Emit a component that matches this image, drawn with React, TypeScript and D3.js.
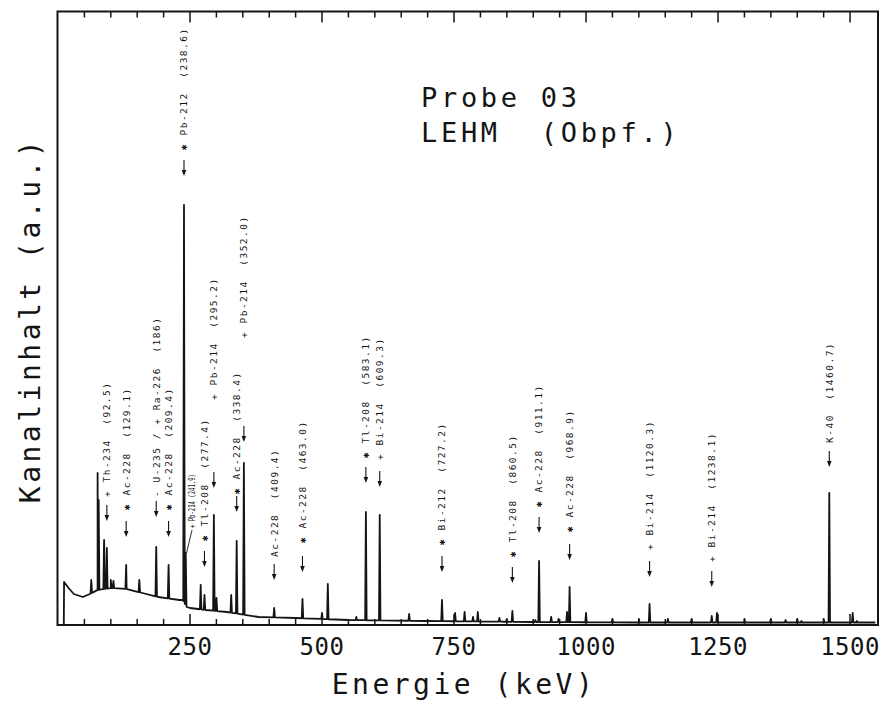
import React from "react";
import * as d3 from "d3";

const W = 886;
const H = 713;

// energy axis (keV) and counts (a.u.)
const xDomain = [0, 1552];
const yDomain = [0, 613];
const xTickValues = [250, 500, 750, 1000, 1250, 1500];

// continuum
const continuumEnergy = [11, 11.5, 20, 30, 47, 60, 75, 100, 130, 160, 190, 230, 236, 244, 250, 280, 320, 380, 450, 550, 700, 900, 1100, 1300, 1450, 1548];
const continuumCounts = [0, 43, 37, 31, 28, 31, 35, 37, 36, 32, 28, 25, 25, 18, 17, 15, 13, 8, 7, 5, 4, 3, 2.5, 2.5, 2.5, 2.5];

// peaks (energy keV, top counts)
const peakEnergy = [63, 75, 77, 87.3, 92.5, 100, 105, 129.1, 154, 186, 209.4, 238.6, 241.9, 270.2, 277.4, 295.2, 300.1, 328, 338.4, 352, 409.4, 463, 500, 511, 565, 583.1, 609.3, 665, 727.2, 752, 770, 786, 795, 836, 850, 860.5, 904, 911.1, 934, 948, 964, 968.9, 1000, 1050, 1100, 1120.3, 1155, 1200, 1238.1, 1248, 1300, 1350, 1378, 1400, 1408, 1450, 1460.7, 1505, 1513];
const peakCounts = [45, 152, 125, 85, 77, 45, 44, 60, 45, 78, 60, 420, 72, 40, 30, 110, 27, 30, 84, 162, 17, 26, 12, 41, 8, 113, 110, 11, 25, 12, 13, 8, 13, 7, 6, 14, 5, 64, 8, 6, 13, 38, 12, 6, 6, 21, 6, 6, 9, 12, 6, 6, 5, 6, 4, 6, 132, 12, 4];

// peak identifications
const labelEnergy = [92.5, 129.1, 186, 209.4, 238.6, 277.4, 295.2, 338.4, 352.0, 409.4, 463.0, 583.1, 609.3, 727.2, 860.5, 911.1, 968.9, 1120.3, 1238.1, 1460.7];
const labelMark = ["+", "✱", "-", "✱", "✱", "✱", "+", "✱", "+", "", "✱", "✱", "+", "✱", "✱", "✱", "✱", "+", "+", ""];
const labelName = ["Th-234", "Ac-228", "U-235 / + Ra-226", "Ac-228", "Pb-212", "Tl-208", "Pb-214", "Ac-228", "Pb-214", "Ac-228", "Ac-228", "Tl-208", "Bi-214", "Bi-212", "Tl-208", "Ac-228", "Ac-228", "Bi-214", "Bi-214", "K-40"];
const labelValue = ["92.5", "129.1", "186", "209.4", "238.6", "277.4", "295.2", "338.4", "352.0", "409.4", "463.0", "583.1", "609.3", "727.2", "860.5", "911.1", "968.9", "1120.3", "1238.1", "1460.7"];

// annotation layout (pixels): arrow tip and text start
const labelTipY = [521, 537, 517, 537, 176, 567, 488, 512, 442, 580, 572, 483, 487, 572, 583, 533, 560, 577, 587, 467];
const labelTextY = [497, 510, 497, 510, 150, 541, 400, 494, 338, 557, 543, 458, 460, 545, 557, 507, 532, 550, 562, 443];

const smallLabel = "+ Pb-214 (241.9)";

const FONT = "'DejaVu Sans Mono', 'Liberation Mono', monospace";
const INK = "#141414";

export default function App() {
  const margin = { left: 57.5, right: 878, top: 11.5, bottom: 625 };
  const x = d3.scaleLinear().domain(xDomain).range([58, 877.5]);
  const y = d3.scaleLinear().domain(yDomain).range([625, 12]);
  const cont = d3.scaleLinear().domain(continuumEnergy).range(continuumCounts).clamp(true);

  // build spectrum points
  const pts: [number, number][] = continuumEnergy.map((e, i) => [e, continuumCounts[i]]);
  const hw = 1.4;
  peakEnergy.forEach((e, i) => {
    pts.push([e - hw, cont(e - hw)]);
    pts.push([e, peakCounts[i]]);
    pts.push([e + hw, cont(e + hw)]);
  });
  pts.sort((a, b) => a[0] - b[0]);
  const line = d3.line<[number, number]>().x((d) => x(d[0])).y((d) => y(d[1]));

  const ticks = d3.range(50, 1501, 50);

  return (
    <svg width={W} height={H} style={{ display: "block", position: "absolute", left: 0, top: 0, background: "#fff" }}>
      <rect x={0} y={0} width={W} height={H} fill="#fff" />
      {/* frame */}
      <rect x={margin.left} y={margin.top} width={margin.right - margin.left} height={margin.bottom - margin.top} fill="none" stroke={INK} strokeWidth={2} />
      {ticks.map((t) => {
        const major = t % 250 === 0;
        const len = major ? 11 : 6;
        return (
          <g key={t}>
            <line x1={x(t)} x2={x(t)} y1={margin.bottom} y2={margin.bottom - len} stroke={INK} strokeWidth={1.5} />
            <line x1={x(t)} x2={x(t)} y1={margin.top} y2={margin.top + len} stroke={INK} strokeWidth={1.5} />
          </g>
        );
      })}
      {xTickValues.map((t) => (
        <text key={t} x={x(t)} y={655} textAnchor="middle" fontFamily={FONT} fontSize={24} letterSpacing={0.5} fill={INK}>
          {t}
        </text>
      ))}
      {/* spectrum */}
      <path d={line(pts) || ""} fill="none" stroke={INK} strokeWidth={1.8} strokeLinejoin="round" />

      {/* annotations */}
      {labelEnergy.map((e, i) => {
        const cx = x(e);
        const tip = labelTipY[i];
        const top = tip - 16;
        const txt = (labelMark[i] ? labelMark[i] + " " : "") + labelName[i] + "  (" + labelValue[i] + ")";
        return (
          <g key={i}>
            <line x1={cx} x2={cx} y1={top} y2={tip - 4} stroke={INK} strokeWidth={1.1} />
            <path d={`M${cx - 2.3},${tip - 6}L${cx + 2.3},${tip - 6}L${cx},${tip}Z`} fill={INK} />
            <text transform={`translate(${cx + 3.4},${labelTextY[i]}) rotate(-90)`} fontFamily={FONT} fontSize={9.5} letterSpacing={1.5} fill={INK} style={{ whiteSpace: "pre" }}>
              {txt}
            </text>
          </g>
        );
      })}
      {/* small Pb-214 label with leader */}
      <line x1={x(241.9) + 0.8} y1={y(72)} x2={192} y2={530} stroke={INK} strokeWidth={0.9} />
      <text transform={`translate(${195},${528}) rotate(-90)`} fontFamily={FONT} fontSize={8.5} textLength={54} lengthAdjust="spacingAndGlyphs" fill={INK} style={{ whiteSpace: "pre" }}>
        {smallLabel}
      </text>

      {/* title */}
      <text x={421} y={107} fontFamily={FONT} fontSize={27} letterSpacing={3.7} fill={INK} style={{ whiteSpace: "pre" }}>
        Probe 03
      </text>
      <text x={421} y={142} fontFamily={FONT} fontSize={27} letterSpacing={3.7} fill={INK} style={{ whiteSpace: "pre" }}>
        {"LEHM  (Obpf.)"}
      </text>

      {/* axis titles */}
      <text x={464} y={694} textAnchor="middle" fontFamily={FONT} fontSize={28} letterSpacing={3.5} fill={INK} style={{ whiteSpace: "pre" }}>
        {"Energie (keV)"}
      </text>
      <text transform={`translate(40,320) rotate(-90)`} textAnchor="middle" fontFamily={FONT} fontSize={28} letterSpacing={3.5} fill={INK} style={{ whiteSpace: "pre" }}>
        {"Kanalinhalt (a.u.)"}
      </text>
    </svg>
  );
}
